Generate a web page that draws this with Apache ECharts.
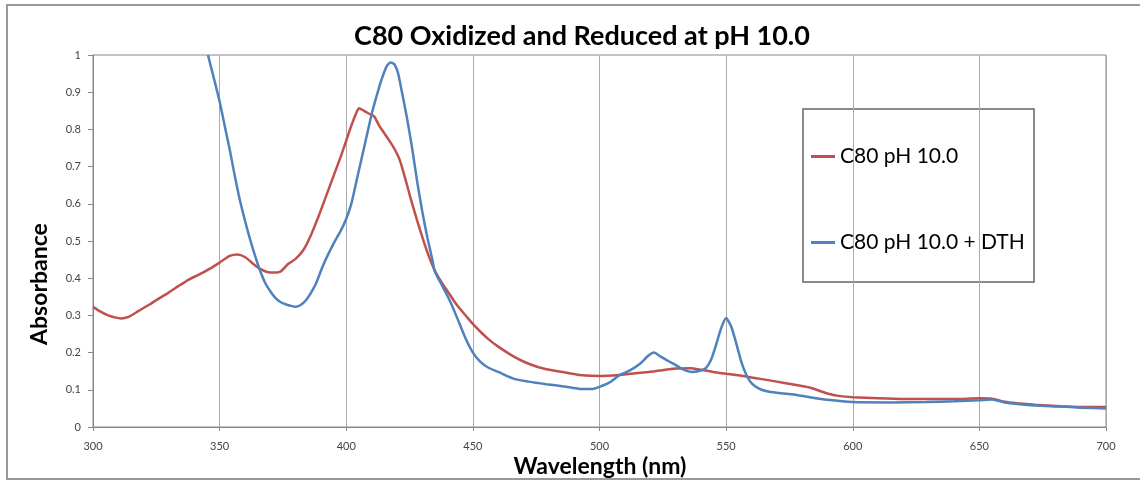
<!DOCTYPE html>
<html>
<head>
<meta charset="utf-8">
<script src="https://cdn.jsdelivr.net/npm/echarts@6/dist/echarts.min.js"></script>
<style>html,body{margin:0;padding:0;background:#fff;}#c{width:1140px;height:480px;}</style>
</head>
<body>
<div id="c"></div>
<script>
// Tick labels / axis settings
const xTicks = [300, 350, 400, 450, 500, 550, 600, 650, 700];
const yTicks = [0, 0.1, 0.2, 0.3, 0.4, 0.5, 0.6, 0.7, 0.8, 0.9, 1];

// Series: C80 pH 10.0 (red)
const redX = [300,303,306,309,311,314,318,322,325,330,334,338,342,346,350,354,357,360,363,366,370,374,377,380,383,386,389,392,395,398,400,402,404,405,407,409,411,413,415,417,419,421,423,425,428,431,433,435,438,441,444,447.5,450,453,456,460,466,472,479,486,492,500,508,515,522,530,536,540,545,550,556,563,570,576,583,590,595,600,610,620,629,640,650,655,660,665,672,682,690,700];
const redY = [0.323,0.31,0.3,0.294,0.292,0.296,0.312,0.328,0.341,0.362,0.38,0.397,0.41,0.425,0.442,0.46,0.464,0.457,0.44,0.425,0.415,0.418,0.438,0.452,0.475,0.515,0.565,0.62,0.675,0.73,0.77,0.81,0.845,0.857,0.85,0.842,0.835,0.81,0.79,0.77,0.748,0.72,0.675,0.625,0.555,0.49,0.452,0.42,0.385,0.355,0.325,0.297,0.277,0.256,0.237,0.216,0.19,0.17,0.155,0.147,0.14,0.137,0.14,0.145,0.15,0.157,0.158,0.154,0.148,0.143,0.138,0.13,0.122,0.115,0.106,0.09,0.083,0.08,0.077,0.075,0.075,0.075,0.077,0.076,0.068,0.064,0.06,0.056,0.054,0.054];

// Series: C80 pH 10.0 + DTH (blue)
const blueX = [345.4,348,350,352,354,356,358,360,362,364,366,368,370,372,374,376,378,380,382,384,386,388,390,392,395,398,400,402,404,406,408,410,412,414,416,417.5,419,420.5,422,424,426,428,430,432,434,435,438,441,444,447,450,453,456,460,466,472,479,486,493,497,500,504,508,512,516,519,521.5,524,527,530,533,536.5,540,542,544,546,548,550,552,554,556,558,560,563,566,570,576,583,590,600,615,629,640,650,655,660,665,672,682,690,700];
const blueY = [1.0,0.93,0.875,0.81,0.745,0.675,0.61,0.555,0.505,0.46,0.42,0.387,0.365,0.347,0.336,0.33,0.326,0.323,0.328,0.34,0.36,0.385,0.42,0.452,0.493,0.53,0.56,0.6,0.66,0.72,0.78,0.84,0.89,0.935,0.97,0.98,0.975,0.95,0.9,0.83,0.75,0.66,0.58,0.51,0.45,0.418,0.378,0.338,0.29,0.24,0.2,0.175,0.16,0.148,0.13,0.122,0.115,0.109,0.102,0.102,0.108,0.12,0.14,0.152,0.17,0.19,0.2,0.19,0.178,0.167,0.155,0.148,0.152,0.158,0.18,0.22,0.265,0.293,0.27,0.225,0.175,0.14,0.118,0.103,0.096,0.092,0.088,0.08,0.073,0.067,0.066,0.067,0.069,0.072,0.074,0.066,0.062,0.058,0.055,0.052,0.05];

const seriesNames = ['C80 pH 10.0', 'C80 pH 10.0 + DTH'];
const titleText = 'C80 Oxidized and Reduced at pH 10.0';

const zip = (xs, ys) => xs.map((x, i) => [x, ys[i]]);

const chart = echarts.init(document.getElementById('c'), null, {renderer: 'canvas'});
const FONT = 'Lato, "Open Sans", sans-serif';
chart.setOption({
  animation: false,
  backgroundColor: '#fff',
  title: {
    text: titleText,
    left: 577, top: 18, textAlign: 'center',
    textStyle: {fontFamily: FONT, fontWeight: 'bold', fontSize: 27, color: '#000'}
  },
  grid: {left: 93, right: 34, top: 55, bottom: 53, show: true, borderColor: '#888', borderWidth: 1},
  legend: {
    orient: 'vertical', left: 806, top: 141, itemGap: 65,
    itemWidth: 24, itemHeight: 3, icon: 'rect',
    textStyle: {fontFamily: FONT, fontSize: 21, color: '#000'},
    data: seriesNames
  },
  xAxis: {
    type: 'value', min: xTicks[0], max: xTicks[xTicks.length - 1], interval: 50,
    axisLine: {lineStyle: {color: '#888', width: 1}},
    axisTick: {show: true, length: 4, lineStyle: {color: '#888'}},
    axisLabel: {margin: 14, fontFamily: FONT, fontSize: 11, color: '#444'},
    splitLine: {show: true, lineStyle: {color: '#aaa', width: 1}}
  },
  yAxis: {
    type: 'value', min: yTicks[0], max: yTicks[yTicks.length - 1], interval: 0.1,
    axisLine: {show: true, lineStyle: {color: '#888', width: 1}},
    axisTick: {show: true, length: 5, lineStyle: {color: '#888'}},
    axisLabel: {margin: 12, fontFamily: FONT, fontSize: 11, color: '#444'},
    splitLine: {show: false}
  },
  graphic: [
    {type: 'rect', shape: {x: 7, y: 5, width: 1140, height: 474}, style: {fill: 'none', stroke: '#9a9a9a', lineWidth: 2}, silent: true},
    {type: 'rect', shape: {x: 803, y: 109, width: 231, height: 173}, style: {fill: '#fff', stroke: '#666', lineWidth: 1.5}, z: -1, silent: true},
    {type: 'text', x: 40, y: 284, rotation: Math.PI / 2,
      style: {text: 'Absorbance', fontFamily: FONT, fontWeight: 'bold', fontSize: 23, fill: '#000', align: 'center', verticalAlign: 'middle'}},
    {type: 'text', x: 600, y: 467,
      style: {text: 'Wavelength (nm)', fontFamily: FONT, fontWeight: 'bold', fontSize: 23, fill: '#000', align: 'center', verticalAlign: 'middle'}}
  ],
  series: [
    {name: seriesNames[0], type: 'line', data: zip(redX, redY), showSymbol: false, symbol: 'none', smooth: 0.2,
      lineStyle: {color: '#c0504d', width: 2.5}, itemStyle: {color: '#c0504d'}, z: 2},
    {name: seriesNames[1], type: 'line', data: zip(blueX, blueY), showSymbol: false, symbol: 'none', smooth: 0.2,
      lineStyle: {color: '#4f81bd', width: 2.5}, itemStyle: {color: '#4f81bd'}, z: 3}
  ]
});
</script>
</body>
</html>
